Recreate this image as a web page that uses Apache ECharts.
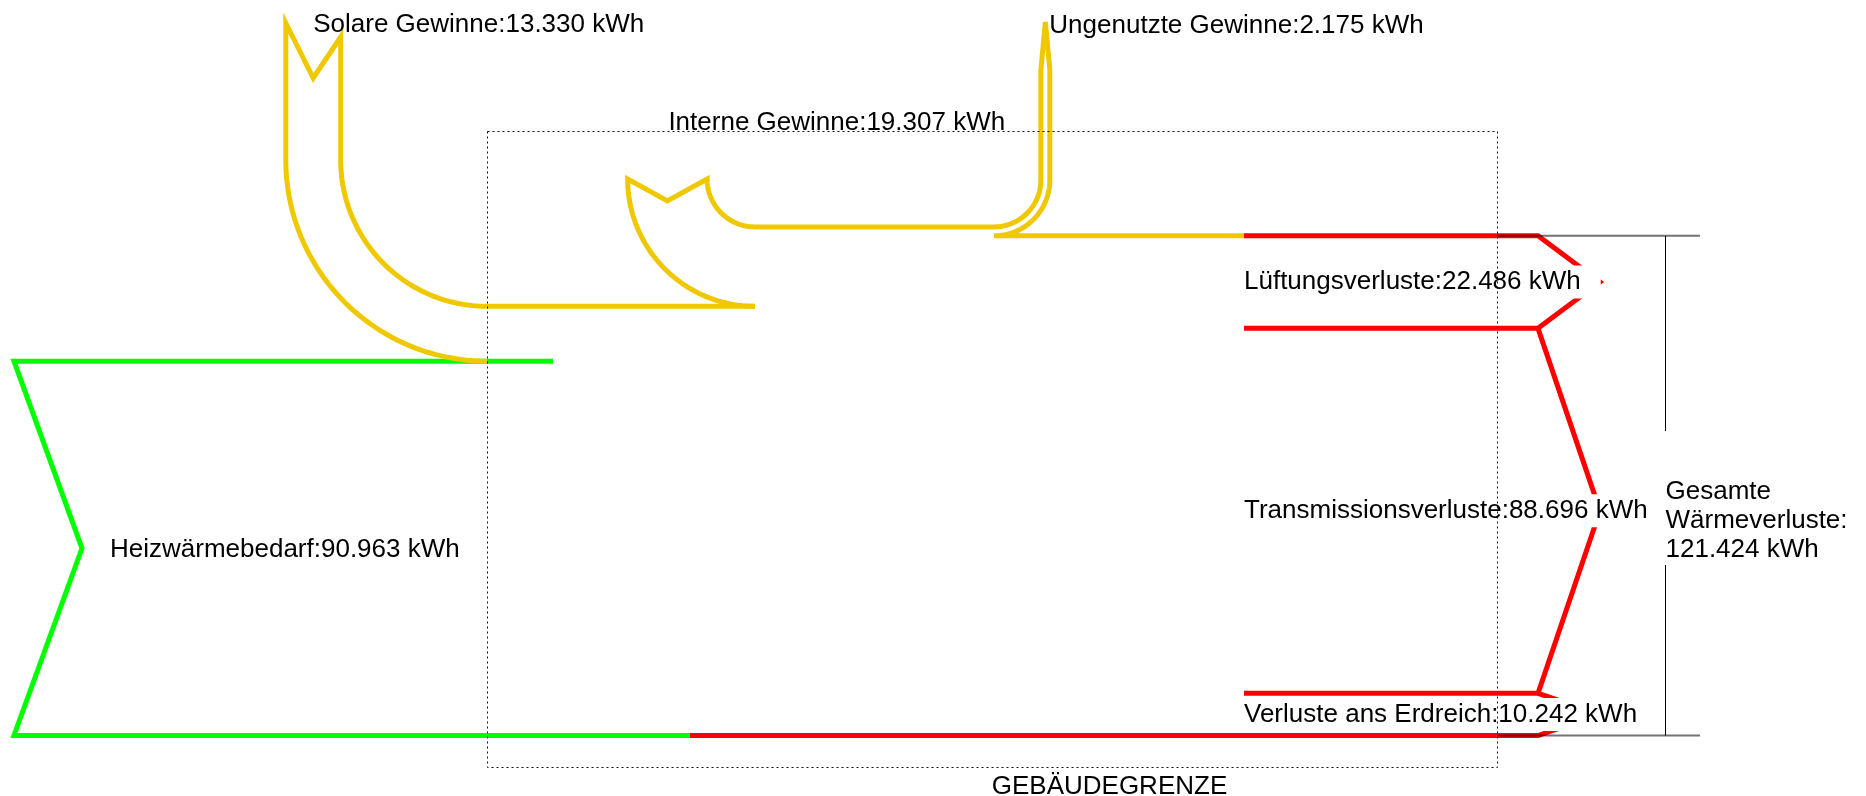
<!DOCTYPE html>
<html><head><meta charset="utf-8">
<script src="https://cdn.jsdelivr.net/npm/echarts@6/dist/echarts.min.js"></script>
<style>html,body{margin:0;padding:0;background:#fff}#c{width:1866px;height:796px}</style>
</head><body><div id="c"></div>
<script>
// ---------------- data ----------------
const gainNames = ['Heizwärmebedarf', 'Solare Gewinne', 'Interne Gewinne', 'Ungenutzte Gewinne'];
const gainValues = [90963, 13330, 19307, 2175];           // kWh (last one leaves the building again)
const lossNames = ['Lüftungsverluste', 'Transmissionsverluste', 'Verluste ans Erdreich'];
const lossValues = [22486, 88696, 10242];                 // kWh
const totalLossLines = ['Gesamte', 'Wärmeverluste:'];
const totalLossValue = 121424;                            // kWh
const boundaryLabel = 'GEBÄUDEGRENZE';
const unit = 'kWh';

// ---------------- layout / style ----------------
const K = 0.004115;               // px per kWh (band width scale)
const BASE_Y = 735.5;             // bottom edge of the total band
const HEAT_X = 14, HEAT_NOTCH = 68, HEAT_TOP_END = 553, HEAT_BOT_END = 690;
const SOLAR_C = [487, 160], SOLAR_TAIL = {left: 23, notch: 78, right: 37};
const INT_C = [755, 179], INT_NOTCH = 22;
const UNUSED_C = [994, 180], UNUSED_NECK = 70, UNUSED_TIP = 22;
const LOSS_X0 = 1244, LOSS_X1 = 1538, LOSS_TIP = 1600;
const BOUND = {x0: 487.5, y0: 131.5, x1: 1497.5, y1: 767.5};
const BRACKET = {x0: 1497, x1: 1700, xv: 1665.5, gap0: 431, gap1: 565};
const LW = 5;
const COL = {heat: '#00ff00', gain: '#f0c800', loss: '#ff0000'};
const FF = '"Liberation Sans", Arial, Helvetica, sans-serif';
const FS = 26;

function fmt(v) { return String(v).replace(/\B(?=(\d{3})+(?!\d))/g, '.'); }
function arc(cx, cy, r, a0, a1, n) {
  n = n || 48; const pts = [];
  for (let i = 0; i <= n; i++) { const a = a0 + (a1 - a0) * i / n; pts.push([cx + r * Math.cos(a), cy + r * Math.sin(a)]); }
  return pts;
}

// cumulative band edges derived from the values
const heatBot = BASE_Y;
const heatTop = heatBot - gainValues[0] * K;
const solarTop = heatTop - gainValues[1] * K;
const intTop = solarTop - gainValues[2] * K;
const usedTop = intTop + gainValues[3] * K;
const lossY = [BASE_Y];
for (let i = lossValues.length - 1; i >= 0; i--) lossY.unshift(lossY[0] - lossValues[i] * K);

const PI = Math.PI;
function line(api, pts, color, z2) {
  return {type: 'polyline', z2: z2 || 1, shape: {points: pts.map(p => api.coord(p))},
    style: {stroke: color, lineWidth: LW, fill: null, lineJoin: 'miter', lineCap: 'butt'}, silent: true};
}
function text(api, p, str, extra) {
  const c = api.coord(p);
  return {type: 'text', x: c[0], y: c[1], z2: 5, silent: true,
    style: Object.assign({text: str, fill: '#000', fontSize: FS, fontFamily: FF, lineHeight: FS,
      align: 'left', verticalAlign: 'middle'}, extra || {})};
}

function renderGains(params, api) {
  const i = params.dataIndex;
  const label = gainNames[i] + ':' + fmt(gainValues[i]) + ' ' + unit;
  if (i === 0) {
    const mid = (heatTop + heatBot) / 2;
    return {type: 'group', children: [
      line(api, [[HEAT_TOP_END, heatTop], [HEAT_X, heatTop], [HEAT_X + HEAT_NOTCH, mid], [HEAT_X, heatBot], [HEAT_BOT_END, heatBot]], COL.heat),
      text(api, [HEAT_X + HEAT_NOTCH + 28, mid + 1.3], label)
    ]};
  }
  if (i === 1) {
    const [cx, cy] = SOLAR_C, rO = heatTop - cy, rI = solarTop - cy, xO = cx - rO, xI = cx - rI, nx = (xO + xI) / 2;
    const pts = [...arc(cx, cy, rO, PI / 2, PI), [xO, SOLAR_TAIL.left], [nx, SOLAR_TAIL.notch], [xI, SOLAR_TAIL.right],
      [xI, cy], ...arc(cx, cy, rI, PI, PI / 2), [INT_C[0], solarTop]];
    return {type: 'group', children: [line(api, pts, COL.gain), text(api, [nx, 24.8], label)]};
  }
  if (i === 2) {
    const [cx, cy] = INT_C, rO = solarTop - cy, rI = intTop - cy, xO = cx - rO, xI = cx - rI, nx = (xO + xI) / 2;
    const pts = [...arc(cx, cy, rO, PI / 2, PI), [nx, cy + INT_NOTCH], [xI, cy], ...arc(cx, cy, rI, PI, PI / 2), [UNUSED_C[0], intTop]];
    return {type: 'group', children: [line(api, pts, COL.gain), text(api, [nx + 1, 122.6], label)]};
  }
  const [cx, cy] = UNUSED_C, rI = intTop - cy, rO = usedTop - cy, xI = cx + rI, xO = cx + rO;
  const pts = [...arc(cx, cy, rI, PI / 2, 0), [xI, UNUSED_NECK], [(xI + xO) / 2, UNUSED_TIP], [xO, UNUSED_NECK], [xO, cy],
    ...arc(cx, cy, rO, 0, PI / 2), [LOSS_X0, usedTop]];
  return {type: 'group', children: [line(api, pts, COL.gain), text(api, [xO - 0.5, 25.5], label)]};
}

function renderLosses(params, api) {
  const i = params.dataIndex;
  const yT = lossY[i], yB = lossY[i + 1], mid = (yT + yB) / 2;
  const pts = [[LOSS_X0, yT], [LOSS_X1, yT], [LOSS_TIP, mid], [LOSS_X1, yB]];
  if (i === lossValues.length - 1) pts.push([HEAT_BOT_END, yB]);
  return {type: 'group', children: [
    line(api, pts, COL.loss),
    text(api, [LOSS_X0, mid], lossNames[i] + ':' + fmt(lossValues[i]) + ' ' + unit,
      {backgroundColor: '#fff', padding: [7, 20, 0, 0]})
  ]};
}

function renderFrame(params, api) {
  const a = api.coord([BOUND.x0, BOUND.y0]), b = api.coord([BOUND.x1, BOUND.y1]);
  const yT = lossY[0], yB = lossY[lossY.length - 1];
  const gA = api.coord([BRACKET.xv - 4, BRACKET.gap0]), gB = api.coord([BRACKET.xv + 30, BRACKET.gap1]);
  const children = [
    {type: 'rect', z2: 8, silent: true, shape: {x: a[0], y: a[1], width: b[0] - a[0], height: b[1] - a[1]},
      style: {fill: null, stroke: '#111', lineWidth: 1, lineDash: [2, 3]}},
    text(api, [(BOUND.x0 + BOUND.x1) / 2 + 117, 786.5], boundaryLabel, {align: 'center'}),
    {type: 'polyline', z2: 2, silent: true, shape: {points: [api.coord([BRACKET.x0, yT]), api.coord([BRACKET.x1, yT])]},
      style: {stroke: 'rgba(0,0,0,0.55)', lineWidth: 2}},
    {type: 'polyline', z2: 2, silent: true, shape: {points: [api.coord([BRACKET.x0, yB]), api.coord([BRACKET.x1, yB])]},
      style: {stroke: 'rgba(0,0,0,0.55)', lineWidth: 2}},
    {type: 'polyline', z2: 2, silent: true, shape: {points: [api.coord([BRACKET.xv, yT]), api.coord([BRACKET.xv, yB])]},
      style: {stroke: '#000', lineWidth: 1}},
    {type: 'rect', z2: 4, silent: true, shape: {x: gA[0], y: gA[1], width: gB[0] - gA[0], height: gB[1] - gA[1]},
      style: {fill: '#fff'}},
    text(api, [BRACKET.xv, 520.7], totalLossLines.concat([fmt(totalLossValue) + ' ' + unit]).join('\n'), {lineHeight: 29})
  ];
  return {type: 'group', children};
}

const chart = echarts.init(document.getElementById('c'), null, {renderer: 'canvas'});
chart.setOption({
  animation: false,
  backgroundColor: '#fff',
  grid: {left: 0, right: 0, top: 0, bottom: 0},
  xAxis: {type: 'value', min: 0, max: 1866, show: false},
  yAxis: {type: 'value', min: 0, max: 796, inverse: true, show: false},
  tooltip: {show: false},
  series: [
    {type: 'custom', name: 'Gewinne', renderItem: renderGains, emphasis: {disabled: true},
      data: gainValues.map((v, i) => ({name: gainNames[i], value: [i, v]}))},
    {type: 'custom', name: 'Verluste', renderItem: renderLosses, emphasis: {disabled: true},
      data: lossValues.map((v, i) => ({name: lossNames[i], value: [i, v]}))},
    {type: 'custom', name: 'Rahmen', renderItem: renderFrame, emphasis: {disabled: true},
      data: [{name: 'Gesamt', value: [0, totalLossValue]}]}
  ]
});
</script></body></html>
